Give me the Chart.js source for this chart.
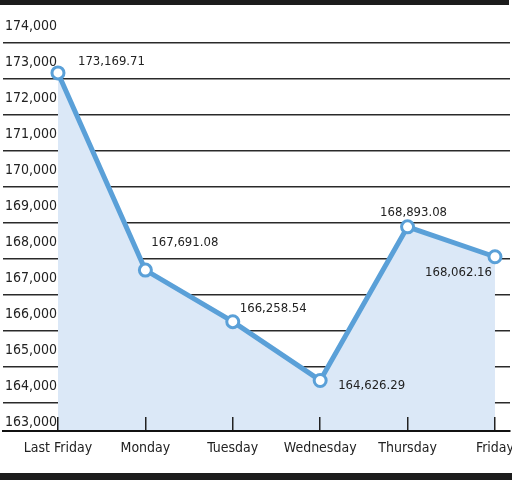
<!DOCTYPE html>
<html>
<head>
<meta charset="utf-8">
<script src="https://cdn.jsdelivr.net/npm/chart.js@4"></script>
<style>
  html, body { margin: 0; padding: 0; background: #fff; }
</style>
</head>
<body>
<canvas id="indexChartArea" width="512" height="480"></canvas>
<script>
const indexChartArea = document.getElementById("indexChartArea");

var days = ["Last Friday", "Monday", "Tuesday", "Wednesday", "Thursday", "Friday"];
var closes = [173169.71, 167691.08, 166258.54, 164626.29, 168893.08, 168062.16];
var yTicks = [163000, 164000, 165000, 166000, 167000, 168000, 169000, 170000, 171000, 172000, 173000, 174000];
var yTickLabels = ["163,000", "164,000", "165,000", "166,000", "167,000", "168,000", "169,000", "170,000", "171,000", "172,000", "173,000", "174,000"];

var narrow = "'Liberation Sans Narrow', 'DejaVu Sans Condensed', 'Arial Narrow', sans-serif";
var lineBlue = '#5aa0d8';

// where each value label sits next to its point
var labelSpots = [
    { dx: 20, dy: -11, align: 'left' },
    { dx: 6, dy: -27, align: 'left' },
    { dx: 7, dy: -13, align: 'left' },
    { dx: 18, dy: 5, align: 'left' },
    { dx: 6, dy: -14, align: 'center' },
    { dx: -3, dy: 16, align: 'right' }
];

function fmt(v) {
    return v.toLocaleString('en-US', { minimumFractionDigits: 2, maximumFractionDigits: 2 });
}

//black bars top and bottom of the graphic
var frameBars = {
    id: 'frameBars',
    afterDraw(chart) {
        var ctx = chart.ctx;
        ctx.save();
        ctx.fillStyle = '#1c1c1c';
        ctx.fillRect(0, 0, 509, 5);
        ctx.fillRect(0, 473, 512, 7);
        ctx.restore();
    }
};

//value text beside every point
var valueLabels = {
    id: 'valueLabels',
    afterDatasetsDraw(chart) {
        var ctx = chart.ctx;
        var meta = chart.getDatasetMeta(0);
        ctx.save();
        ctx.font = '13px ' + narrow;
        ctx.fillStyle = '#222';
        ctx.textBaseline = 'middle';
        for (var i = 0; i < meta.data.length; i++) {
            var pt = meta.data[i];
            var spot = labelSpots[i];
            ctx.textAlign = spot.align;
            ctx.fillText(fmt(closes[i]), pt.x + spot.dx, pt.y + spot.dy);
        }
        ctx.restore();
    }
};

var lineChart = new Chart(indexChartArea, {
    type: 'line',
    data: {
        datasets: [{
            data: closes.map(function (v, i) { return { x: i, y: v }; }),
            borderColor: lineBlue,
            borderWidth: 5,
            backgroundColor: '#dbe8f7',
            fill: 'start',
            tension: 0,
            pointRadius: 6,
            pointBorderWidth: 3,
            pointBackgroundColor: '#fff',
            pointBorderColor: lineBlue
        }]
    },
    options: {
        responsive: false,
        animation: false,
        layout: { padding: { top: 43, left: 0, right: 2, bottom: 19 }, autoPadding: false },
        plugins: { legend: { display: false }, tooltip: { enabled: false } },
        scales: {
            x: {
                type: 'linear',
                min: -0.629,
                max: 5.172,
                afterBuildTicks: function (scale) {
                    scale.ticks = days.map(function (d, i) { return { value: i }; });
                },
                afterFit: function (scale) {
                    scale.height = 30;
                    scale.paddingLeft = 0;
                    scale.paddingRight = 0;
                },
                // ticks point up into the plot and sit over the fill
                grid: { z: 1, drawOnChartArea: false, drawTicks: true, tickLength: -14, color: '#222', lineWidth: 1.5 },
                border: { display: true, z: 1, color: '#111', width: 2 },
                ticks: {
                    autoSkip: false,
                    maxRotation: 0,
                    padding: 23,
                    color: '#222',
                    font: { family: narrow, size: 14 },
                    callback: function (v) { return days[v]; }
                }
            },
            y: {
                min: 163222,
                max: 174000,
                afterBuildTicks: function (scale) {
                    scale.ticks = yTicks.map(function (v) { return { value: v }; });
                },
                afterFit: function (scale) {
                    scale.width = 3;
                    scale.paddingTop = 0;
                    scale.paddingBottom = 0;
                },
                grid: {
                    drawTicks: false,
                    lineWidth: 1.5,
                    color: function (c) { return c.tick && c.tick.value < 163222 ? 'rgba(0,0,0,0)' : '#2a2a2a'; }
                },
                border: { display: false },
                ticks: {
                    mirror: true,
                    padding: 2,
                    labelOffset: -17,
                    color: '#222',
                    font: { family: narrow, size: 14 },
                    callback: function (v, i) { return yTickLabels[i]; }
                }
            }
        }
    },
    plugins: [frameBars, valueLabels]
});
</script>
</body>
</html>
